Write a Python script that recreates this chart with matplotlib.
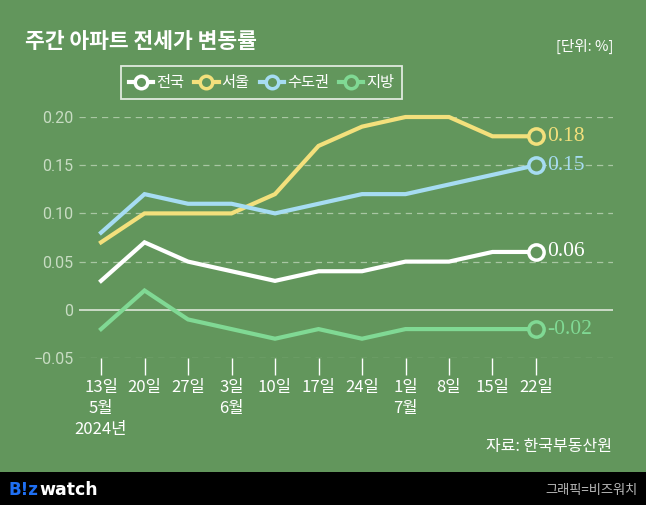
import numpy as np
import matplotlib.pyplot as plt
from matplotlib.lines import Line2D

plt.rcParams['font.family'] = ['Noto Sans CJK KR', 'DejaVu Sans']

weeks = ["13일\n5월\n2024년", "20일", "27일", "3일\n6월", "10일", "17일", "24일",
         "1일\n7월", "8일", "15일", "22일"]
series_names = ["전국", "서울", "수도권", "지방"]
national = [0.03, 0.07, 0.05, 0.04, 0.03, 0.04, 0.04, 0.05, 0.05, 0.06, 0.06]
seoul = [0.07, 0.10, 0.10, 0.10, 0.12, 0.17, 0.19, 0.20, 0.20, 0.18, 0.18]
capital = [0.08, 0.12, 0.11, 0.11, 0.10, 0.11, 0.12, 0.12, 0.13, 0.14, 0.15]
local = [-0.02, 0.02, -0.01, -0.02, -0.03, -0.02, -0.03, -0.02, -0.02, -0.02, -0.02]
yticks = [-0.05, 0, 0.05, 0.10, 0.15, 0.20]
ytick_labels = ["\u22120.05", "0", "0.05", "0.10", "0.15", "0.20"]

bg = '#62965c'
colors = ['#ffffff', '#f3e07c', '#a6dcf2', '#80d994']
values = [national, seoul, capital, local]

fig = plt.figure(figsize=(6.46, 5.05), dpi=100, facecolor=bg)
ax = fig.add_axes([0.1223, 0.2911, 0.8266, 0.4772])
ax.set_facecolor(bg)

x = np.arange(len(weeks))
for vals, c in zip(values, colors):
    ax.plot(x, vals, color=c, lw=3, solid_joinstyle='miter', clip_on=False, zorder=3)
    ax.plot(x[-1], vals[-1], 'o', ms=11, mfc=bg, mec=c, mew=2.5, clip_on=False, zorder=4)
    ax.annotate(f"{vals[-1]:.2f}", (x[-1], vals[-1]), xytext=(8, 0),
                textcoords='offset points', va='center', ha='left', color=c,
                fontsize=15.5, family='Liberation Serif', annotation_clip=False)

ax.set_xlim(-0.506, 11.77)
ax.set_ylim(-0.05, 0.20)
ax.set_yticks(yticks)
ax.set_yticklabels(ytick_labels)
for yv in yticks:
    if yv == 0:
        ax.axhline(yv, color='#dde6da', lw=1.2, zorder=1)
    else:
        ax.axhline(yv, color='#a9c6a3', lw=0.9, ls=(0, (5, 4)), zorder=1)

ax.set_xticks(x)
ax.set_xticklabels(weeks, linespacing=1.3)
ax.tick_params(axis='x', length=12, width=1, color='white', labelcolor='white',
               labelsize=12, pad=3)
ax.tick_params(axis='y', length=0, labelcolor='#c8dcc3', labelsize=11.5, pad=4)
for lbl in ax.get_yticklabels():
    lbl.set_family(['Roboto', 'DejaVu Sans'])
for s in ax.spines.values():
    s.set_visible(False)

# title and notes
fig.text(25 / 646, 1 - 41 / 505, "주간 아파트 전세가 변동률", color='white',
         fontsize=15.5, fontweight='bold', va='center', ha='left')
fig.text(613 / 646, 1 - 46 / 505, "[단위: %]", color='white', fontsize=10.5,
         va='center', ha='right')
fig.text(612 / 646, 1 - 447 / 505, "자료: 한국부동산원", color='white', fontsize=11.5,
         va='center', ha='right')

# legend
handles = [Line2D([0], [0], color=c, lw=3, marker='o', ms=9, mfc=bg, mec=c, mew=2.5)
           for c in colors]
leg = fig.legend(handles, series_names, loc='center', bbox_to_anchor=(0.405, 0.8366),
                 ncol=4, frameon=True, fancybox=False, fontsize=11, handlelength=1.6,
                 handletextpad=0.2, columnspacing=0.65, borderpad=0.5, borderaxespad=0)
leg.get_frame().set_facecolor('none')
leg.get_frame().set_edgecolor('white')
leg.get_frame().set_linewidth(1.3)
for t in leg.get_texts():
    t.set_color('white')

# footer bar
footer = fig.add_axes([0, 0, 1, 33 / 505])
footer.set_facecolor('black')
footer.set_xticks([])
footer.set_yticks([])
for s in footer.spines.values():
    s.set_visible(False)
footer.text(8 / 646, 0.45, "B!z", color='#1f6ff2', fontsize=12, fontweight='bold',
            va='center', ha='left', transform=footer.transAxes, family='DejaVu Sans')
footer.text(39 / 646, 0.45, "watch", color='white', fontsize=12.5, fontweight='bold',
            va='center', ha='left', transform=footer.transAxes, family='DejaVu Sans')
footer.text(638 / 646, 0.45, "그래픽=비즈워치", color='#bbbbbb', fontsize=9.5,
            va='center', ha='right', transform=footer.transAxes)

fig.savefig('out.png', dpi=100, facecolor=bg)
